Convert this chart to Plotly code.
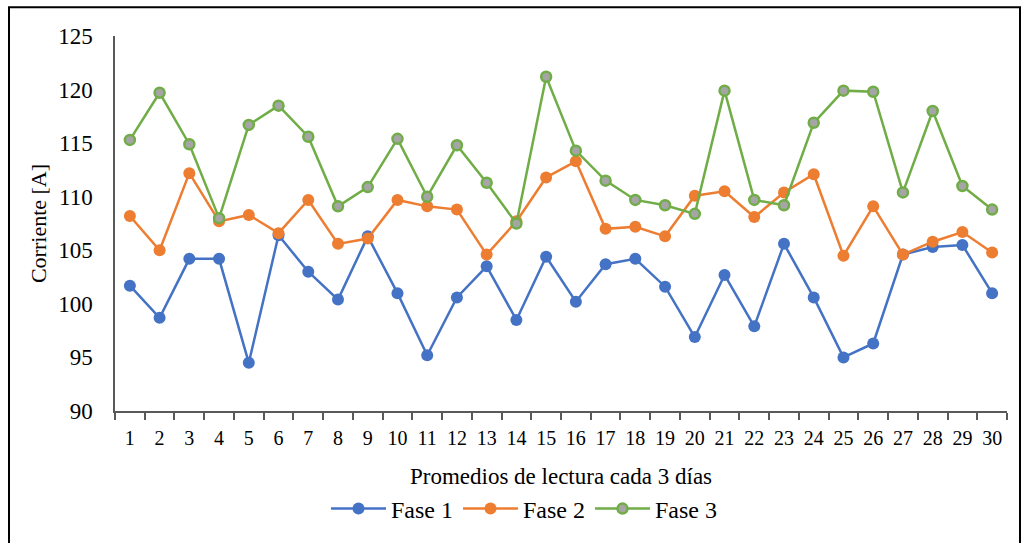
import plotly.graph_objects as go

dias = [str(i) for i in range(1, 31)]
fase1 = [101.7, 98.7, 104.2, 104.2, 94.5, 106.4, 103.0, 100.4, 106.3, 101.0,
         95.2, 100.6, 103.5, 98.5, 104.4, 100.2, 103.7, 104.2, 101.6, 96.9,
         102.7, 97.9, 105.6, 100.6, 95.0, 96.3, 104.6, 105.3, 105.5, 101.0]
fase2 = [108.2, 105.0, 112.2, 107.7, 108.3, 106.6, 109.7, 105.6, 106.1, 109.7,
         109.1, 108.8, 104.6, 107.7, 111.8, 113.3, 107.0, 107.2, 106.3, 110.1,
         110.5, 108.1, 110.4, 112.1, 104.5, 109.1, 104.6, 105.8, 106.7, 104.8]
fase3 = [115.3, 119.7, 114.9, 108.0, 116.7, 118.5, 115.6, 109.1, 110.9, 115.4,
         110.0, 114.8, 111.3, 107.5, 121.2, 114.3, 111.5, 109.7, 109.2, 108.4,
         119.9, 109.7, 109.2, 116.9, 119.9, 119.8, 110.4, 118.0, 111.0, 108.8]

FONT = "Liberation Serif"

fig = go.Figure()
fig.add_trace(go.Scatter(x=dias, y=fase1, name="Fase 1", mode="lines+markers",
                         line=dict(color="#4472C4", width=2.5),
                         marker=dict(color="#4472C4", size=12)))
fig.add_trace(go.Scatter(x=dias, y=fase2, name="Fase 2", mode="lines+markers",
                         line=dict(color="#ED7D31", width=2.5),
                         marker=dict(color="#ED7D31", size=12)))
fig.add_trace(go.Scatter(x=dias, y=fase3, name="Fase 3", mode="lines+markers",
                         line=dict(color="#70AD47", width=2.5),
                         marker=dict(color="#A5A5A5", size=10,
                                     line=dict(color="#70AD47", width=2.5))))

L, R, T, B = 115, 17, 36, 128
W, H = 1024, 543
pw, ph = W - L - R, H - T - B

def px(x):
    return (x - L) / pw

def py(y):
    return (H - B - y) / ph

fig.update_layout(
    width=W, height=H,
    margin=dict(l=L, r=R, t=T, b=B),
    paper_bgcolor="white", plot_bgcolor="white",
    font=dict(family=FONT, size=21, color="black"),
    showlegend=True,
    legend=dict(orientation="h", x=px(524), xanchor="center", y=py(514), yanchor="middle",
                font=dict(family=FONT, size=24, color="black"), itemwidth=55,
                bgcolor="rgba(0,0,0,0)"),
    xaxis=dict(type="category", range=[-0.5, 29.5], showline=True, linecolor="#595959",
               linewidth=1.5, ticks="outside", tickson="boundaries", ticklen=7,
               tickcolor="#595959", tickwidth=1.5, showgrid=False, zeroline=False,
               ticklabelstandoff=8, automargin=False,
               tickfont=dict(family=FONT, size=20, color="black"),
               title=dict(text="Promedios de lectura cada 3 días", standoff=20,
                          font=dict(family=FONT, size=23, color="black"))),
    yaxis=dict(range=[90, 125], dtick=5, showline=True, linecolor="#595959", linewidth=1.5,
               ticks="", showgrid=False, zeroline=False, ticklabelstandoff=16,
               automargin=False,
               tickfont=dict(family=FONT, size=23, color="black"),
               title=dict(text="Corriente [A]", standoff=5,
                          font=dict(family=FONT, size=22, color="black"))),
    shapes=[dict(type="rect", xref="paper", yref="paper",
                 x0=px(9), x1=px(1020), y0=py(560), y1=py(7),
                 line=dict(color="black", width=2), fillcolor="rgba(0,0,0,0)",
                 layer="below")],
)

fig.write_html("out.html")
